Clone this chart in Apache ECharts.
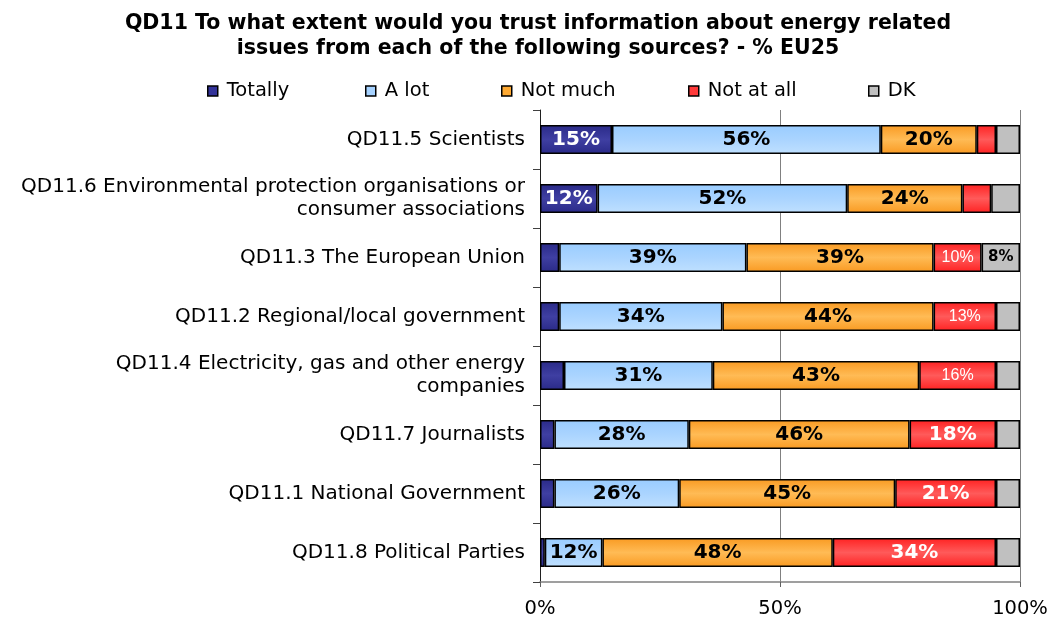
<!DOCTYPE html>
<html>
<head>
<meta charset="utf-8">
<title>QD11 Trust in energy information sources</title>
<script src="https://cdn.jsdelivr.net/npm/echarts@6/dist/echarts.min.js"></script>
<style>
  html, body { margin: 0; padding: 0; background: #ffffff; }
  #chart { width: 1051px; height: 619px; }
</style>
</head>
<body>
<div id="chart"></div>
<script>
// Sources, top to bottom
const categories = [
  'QD11.5 Scientists',
  'QD11.6 Environmental protection organisations or\nconsumer associations',
  'QD11.3 The European Union',
  'QD11.2 Regional/local government',
  'QD11.4 Electricity, gas and other energy\ncompanies',
  'QD11.7 Journalists',
  'QD11.1 National Government',
  'QD11.8 Political Parties'
];

// Shares of answers, % EU25
const totally  = [15, 12, 4, 4, 5, 3, 3, 1];
const aLot     = [56, 52, 39, 34, 31, 28, 26, 12];
const notMuch  = [20, 24, 39, 44, 43, 46, 45, 48];
const notAtAll = [4, 6, 10, 13, 16, 18, 21, 34];
const dk       = [5, 6, 8, 5, 5, 5, 5, 5];

const xTicks = [0, 50, 100];

const FONT = 'DejaVu Sans, Verdana, sans-serif';

function grad(top, mid, bottom) {
  return new echarts.graphic.LinearGradient(0, 0, 0, 1, [
    { offset: 0, color: top },
    { offset: 0.5, color: mid },
    { offset: 1, color: bottom }
  ]);
}

const palette = {
  'Totally':    { swatch: '#333399', fill: grad('#2a2a88', '#3f3fa2', '#2a2a88') },
  'A lot':      { swatch: '#a6d2ff', fill: grad('#99ccff', '#aad4ff', '#bfe0ff') },
  'Not much':   { swatch: '#ffaa33', fill: grad('#f99a22', '#ffbb55', '#f99a22') },
  'Not at all': { swatch: '#ff3a3a', fill: grad('#ff2222', '#ff5a5a', '#ff2222') },
  'DK':         { swatch: '#c0c0c0', fill: '#c0c0c0' }
};

// left edge of each legend entry
const legendLeft = { 'Totally': 207, 'A lot': 365, 'Not much': 501, 'Not at all': 688, 'DK': 868 };

const bigLabel = { fontFamily: FONT, fontSize: 20, fontWeight: 'bold' };
const smallLabel = { fontFamily: 'Liberation Sans, Arial, sans-serif', fontSize: 16, fontWeight: 'normal' };

function makeSeries(name, values, labelColor, styleFor) {
  return {
    name: name,
    type: 'bar',
    stack: 'all',
    barWidth: 29,
    itemStyle: { color: palette[name].fill, borderColor: '#000000', borderWidth: 1.5 },
    label: {
      show: true,
      position: 'inside',
      color: labelColor,
      formatter: p => (p.value >= 8 ? p.value + '%' : '')
    },
    emphasis: { disabled: true },
    data: values.map(v => ({ value: v, label: styleFor(v) }))
  };
}

const series = [
  makeSeries('Totally', totally, '#ffffff', () => bigLabel),
  makeSeries('A lot', aLot, '#000000', () => bigLabel),
  makeSeries('Not much', notMuch, '#000000', () => bigLabel),
  makeSeries('Not at all', notAtAll, '#ffffff', v => (v < 17 ? smallLabel : bigLabel)),
  makeSeries('DK', dk, '#000000', () => ({ fontFamily: FONT, fontSize: 15, fontWeight: 'bold' }))
];

const legends = Object.keys(palette).map(n => ({
  top: 81,
  left: legendLeft[n],
  padding: 0,
  itemWidth: 10,
  itemHeight: 10,
  icon: 'rect',
  textStyle: { fontFamily: FONT, fontSize: 19.5, color: '#000000', padding: [0, 0, 0, 4] },
  data: [{
    name: n,
    itemStyle: { color: palette[n].swatch, borderColor: '#000000', borderWidth: 1.5 }
  }]
}));

const chart = echarts.init(document.getElementById('chart'), null, { renderer: 'canvas' });

chart.setOption({
  animation: false,
  backgroundColor: '#ffffff',
  title: {
    text: 'QD11 To what extent would you trust information about energy related\nissues from each of the following sources? - % EU25',
    left: 538,
    textAlign: 'center',
    top: 11,
    padding: 0,
    textStyle: { fontFamily: FONT, fontSize: 20.5, fontWeight: 'bold', color: '#000000', lineHeight: 25 }
  },
  legend: legends,
  grid: { left: 540, right: 31, top: 110, bottom: 36, containLabel: false },
  xAxis: {
    type: 'value',
    min: xTicks[0],
    max: xTicks[xTicks.length - 1],
    interval: 50,
    axisLine: { show: true, lineStyle: { color: '#808080', width: 1.5 } },
    axisTick: { show: true, length: 5, lineStyle: { color: '#606060' } },
    axisLabel: {
      fontFamily: FONT, fontSize: 19.5, color: '#000000', margin: 17,
      formatter: v => v + '%'
    },
    splitLine: { show: true, lineStyle: { color: '#808080', width: 1 } }
  },
  yAxis: {
    type: 'category',
    inverse: true,
    data: categories,
    axisLine: { show: true, lineStyle: { color: '#202020', width: 1 } },
    axisTick: { show: true, length: 7, lineStyle: { color: '#404040' } },
    axisLabel: {
      fontFamily: FONT, fontSize: 20, color: '#000000', margin: 15,
      lineHeight: 23, align: 'right'
    }
  },
  series: series
});
</script>
</body>
</html>
